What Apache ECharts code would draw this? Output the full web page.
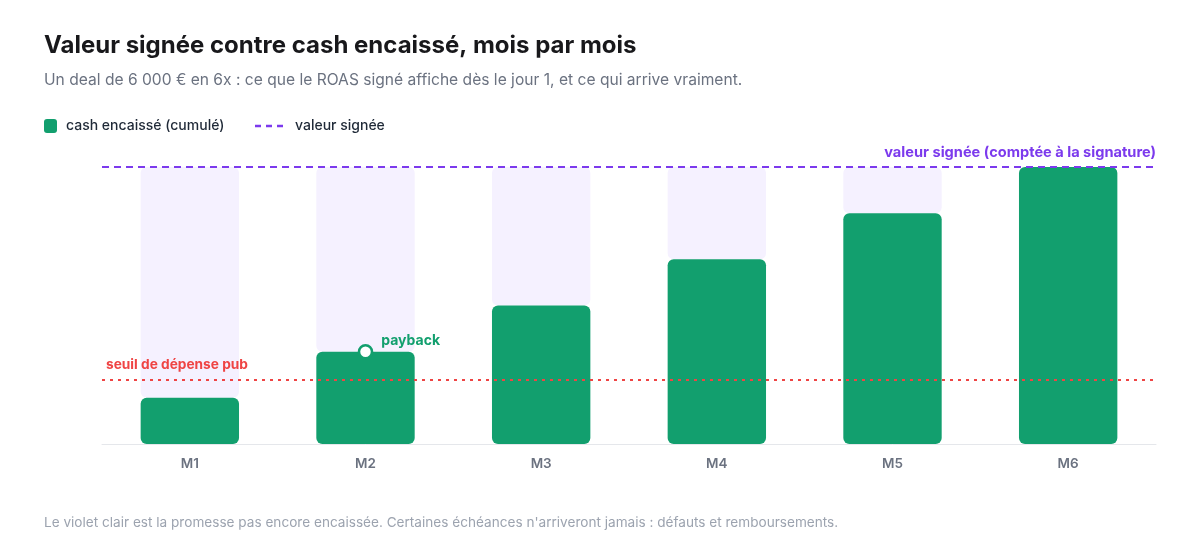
<!DOCTYPE html>
<html><head><meta charset="utf-8">
<script src="https://cdn.jsdelivr.net/npm/echarts@6/dist/echarts.min.js"></script>
<style>html,body{margin:0;padding:0;background:#fff}#c{width:1200px;height:556px}</style>
</head><body><div id="c"></div>
<script>
const months = ['M1','M2','M3','M4','M5','M6'];
const cashCumul = [1000, 2000, 3000, 4000, 5000, 6000];
const signedValue = 6000;
const spendThreshold = 1400;
const paybackMonth = 'M2';
const paybackValue = 2000;

const FONT = 'Inter, "Noto Sans", sans-serif';
const GREEN = '#129f6e', VIOLET = '#7c3aed', RED = '#ef4444', PALE = '#f5f1ff';
const remaining = cashCumul.map(v => signedValue - v);

const chart = echarts.init(document.getElementById('c'), null, {renderer:'canvas'});
chart.setOption({
  animation:false,
  textStyle:{fontFamily:FONT},
  title:[
    {text:'Valeur signée contre cash encaissé, mois par mois', left:44, top:34, padding:0,
     textStyle:{fontFamily:FONT,fontSize:24,fontWeight:700,color:'#18181b'}},
    {text:'Un deal de 6 000 € en 6x : ce que le ROAS signé affiche dès le jour 1, et ce qui arrive vraiment.', left:44, top:72, padding:0,
     textStyle:{fontFamily:FONT,fontSize:15.6,fontWeight:400,color:'#6b7280'}},
    {text:"Le violet clair est la promesse pas encore encaissée. Certaines échéances n'arriveront jamais : défauts et remboursements.", left:44, top:516, padding:0,
     textStyle:{fontFamily:FONT,fontSize:13.6,fontWeight:400,color:'#9ca3af'}}
  ],
  graphic:[
    {type:'rect', shape:{x:44,y:119,width:13,height:14,r:3}, style:{fill:GREEN}},
    {type:'text', left:66, top:119, style:{text:'cash encaissé (cumulé)', font:'500 14px '+FONT, fill:'#1f2937'}},
    {type:'line', shape:{x1:255,y1:126,x2:286,y2:126}, style:{stroke:VIOLET,lineWidth:2.5,lineDash:[6,5]}},
    {type:'text', left:295, top:119, style:{text:'valeur signée', font:'500 14px '+FONT, fill:'#1f2937'}}
  ],
  grid:{left:102, right:44, top:167, bottom:112},
  xAxis:{type:'category', data:months,
    axisLine:{lineStyle:{color:'#e5e7eb',width:1}}, axisTick:{show:false},
    axisLabel:{color:'#6b7280',fontSize:13.5,fontWeight:600,margin:13,fontFamily:FONT}},
  yAxis:{type:'value', min:0, max:signedValue, show:false, splitLine:{show:false}},
  series:[
    {name:'cash encaissé (cumulé)', type:'bar', stack:'s', data:cashCumul, barWidth:'56%',
     itemStyle:{color:GREEN, borderRadius:6},
     markPoint:{symbol:'circle', symbolSize:13,
       itemStyle:{color:'#fff', borderColor:GREEN, borderWidth:2.5},
       label:{show:true, formatter:'payback', position:'right', offset:[3,-11],
         color:GREEN, fontSize:14, fontWeight:700, fontFamily:FONT},
       data:[{coord:[paybackMonth, paybackValue]}]},
     markLine:{silent:true, symbol:['none','none'],
       data:[{yAxis:spendThreshold,
         lineStyle:{color:RED, type:[3,5], width:2},
         label:{show:true, formatter:'seuil de dépense pub', position:'insideStartTop', distance:[4,7],
           color:RED, fontSize:13.7, fontWeight:700, fontFamily:FONT}}]}},
    {name:'promesse', type:'bar', stack:'s', data:remaining, barWidth:'56%',
     itemStyle:{color:PALE, borderRadius:6},
     z:1,
     markLine:{silent:true, symbol:['none','none'],
       data:[{yAxis:signedValue,
         lineStyle:{color:VIOLET, type:[7,5], width:2},
         label:{show:true, formatter:'valeur signée (comptée à la signature)', position:'insideEndTop', distance:[0,7],
           color:VIOLET, fontSize:14.6, fontWeight:700, fontFamily:FONT}}]}}
  ]
});
</script></body></html>
